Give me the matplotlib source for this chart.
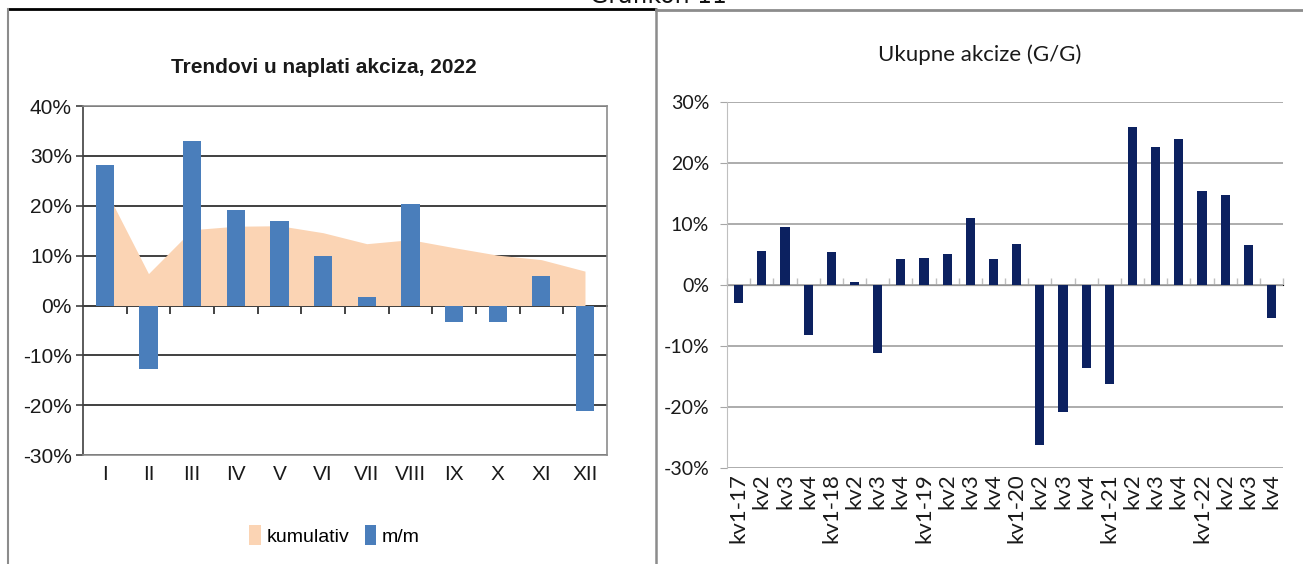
import matplotlib
matplotlib.use("Agg")
import matplotlib.pyplot as plt
import matplotlib.lines as mlines
from matplotlib.ticker import FuncFormatter, FixedLocator
import numpy as np

# left chart: monthly 2022
months = ['I', 'II', 'III', 'IV', 'V', 'VI', 'VII', 'VIII', 'IX', 'X', 'XI', 'XII']
mm = [28.1, -12.7, 33.0, 19.1, 16.9, 10.0, 1.7, 20.3, -3.3, -3.3, 6.0, -21.1]
kumulativ = [23.5, 6.4, 15.2, 15.9, 16.0, 14.6, 12.4, 13.2, 11.6, 10.1, 9.2, 6.9]

# right chart: quarterly y/y
quarters = ['kv1-17', 'kv2', 'kv3', 'kv4',
            'kv1-18', 'kv2', 'kv3', 'kv4',
            'kv1-19', 'kv2', 'kv3', 'kv4',
            'kv1-20', 'kv2', 'kv3', 'kv4',
            'kv1-21', 'kv2', 'kv3', 'kv4',
            'kv1-22', 'kv2', 'kv3', 'kv4']
gg = [-3.0, 5.6, 9.4, -8.2,
      5.4, 0.5, -11.2, 4.2,
      4.3, 5.0, 10.9, 4.2,
      6.6, -26.3, -20.9, -13.7,
      -16.3, 25.8, 22.5, 23.9,
      15.3, 14.7, 6.5, -5.5]

narrow = ['Liberation Sans', 'DejaVu Sans']
calib = ['Lato', 'DejaVu Sans']
pct = FuncFormatter(lambda v, p: '{:.0f}%'.format(v))

fig = plt.figure(figsize=(13.03, 5.64), dpi=100)

# ---------------- left panel
ax1 = fig.add_axes([0.0637, 0.193, 0.402, 0.619])
x1 = np.arange(len(months))
ax1.fill_between(x1, 0, kumulativ, color='#fbd4b4', lw=0, zorder=2, label='kumulativ')
ax1.bar(x1, mm, width=0.42, color='#4a7ebb', zorder=3, label='m/m')
ax1.set_xlim(-0.5, len(months) - 0.5)
ax1.set_ylim(-30, 40)
ax1.set_yticks(np.arange(-30, 41, 10))
ax1.yaxis.set_major_formatter(pct)
ax1.grid(axis='y', color='#404040', lw=1.4, zorder=1)
ax1.set_axisbelow(True)
for s in ax1.spines.values():
    s.set_color('#8c8c8c')
    s.set_linewidth(1.2)
ax1.spines['left'].set_color('#404040')
ax1.tick_params(axis='y', direction='out', length=5, color='#404040', width=1.2,
                labelsize=15, pad=3)
ax1.set_xticks(x1)
ax1.set_xticklabels(months)
ax1.tick_params(axis='x', length=0, labelsize=15, pad=7)
for lab in ax1.get_xticklabels() + ax1.get_yticklabels():
    lab.set_family(narrow)
    lab.set_color('#1a1a1a')

lo, hi = ax1.get_ylim()
sec1 = ax1.secondary_xaxis((0 - lo) / (hi - lo))
sec1.xaxis.set_major_locator(FixedLocator(x1[:-1] + 0.5))
sec1.tick_params(axis='x', direction='out', length=6, width=1.2, color='#222222', labelsize=0)
sec1.set_xticklabels([])
sec1.spines['bottom'].set_color('#111111')
sec1.spines['bottom'].set_linewidth(1.4)

ax1.set_title('Trendovi u naplati akciza, 2022', fontsize=15, fontweight='bold',
              family=narrow, pad=24, x=0.46, color='#1a1a1a')
leg1 = ax1.legend(loc='upper center', bbox_to_anchor=(0.48, -0.15), ncol=2, frameon=False,
                  handlelength=0.6, handleheight=1.2, handletextpad=0.3, columnspacing=0.8,
                  prop={'family': narrow, 'size': 14})

# ---------------- right panel
ax2 = fig.add_axes([0.558, 0.171, 0.4267, 0.6486])
x2 = np.arange(len(quarters))
ax2.bar(x2, gg, width=0.4, color='#0c2160', zorder=3)
ax2.set_xlim(-0.5, len(quarters) - 0.5)
ax2.set_ylim(-30, 30)
ax2.set_yticks(np.arange(-30, 31, 10))
ax2.yaxis.set_major_formatter(pct)
ax2.grid(axis='y', color='#a6a6a6', lw=1.3, zorder=1)
ax2.set_axisbelow(True)
for side in ['top', 'right', 'bottom']:
    ax2.spines[side].set_visible(False)
ax2.spines['left'].set_color('#bfbfbf')
ax2.tick_params(axis='y', direction='out', length=5, color='#a6a6a6', labelsize=14, pad=8)
ax2.set_xticks(x2)
ax2.set_xticklabels(quarters, rotation=90)
ax2.tick_params(axis='x', length=0, labelsize=16, pad=4)
for lab in ax2.get_xticklabels() + ax2.get_yticklabels():
    lab.set_family(calib)
    lab.set_color('#1a1a1a')

lo, hi = ax2.get_ylim()
sec2 = ax2.secondary_xaxis((0 - lo) / (hi - lo))
sec2.xaxis.set_major_locator(FixedLocator(np.append(x2 + 0.5, -0.5)))
sec2.tick_params(axis='x', direction='out', length=5, width=1, color='#bfbfbf', labelsize=0)
sec2.set_xticklabels([])
sec2.spines['bottom'].set_color('#a6a6a6')
sec2.spines['bottom'].set_linewidth(1.3)

ax2.set_title('Ukupne akcize (G/G)', fontsize=16, family=calib, pad=29, x=0.455,
              color='#1a1a1a')

# ---------------- page decorations
fig.text(0.505, 1 - 3 / 564, 'Grafikon 11', ha='center', va='baseline', fontsize=17,
         color='#111111')
W, H = 1303.0, 564.0
fig.add_artist(mlines.Line2D([8 / W, 655 / W], [1 - 9 / H, 1 - 9 / H], color='black', lw=2))
fig.add_artist(mlines.Line2D([8 / W, 8 / W], [0, 1 - 9 / H], color='#8c8c8c', lw=1.5))
fig.add_artist(mlines.Line2D([656 / W, 656 / W], [0, 1 - 9 / H], color='#8c8c8c', lw=1.8))
fig.add_artist(mlines.Line2D([656 / W, 1], [1 - 10 / H, 1 - 10 / H], color='#8c8c8c', lw=2))

fig.savefig('out.png', dpi=100)
